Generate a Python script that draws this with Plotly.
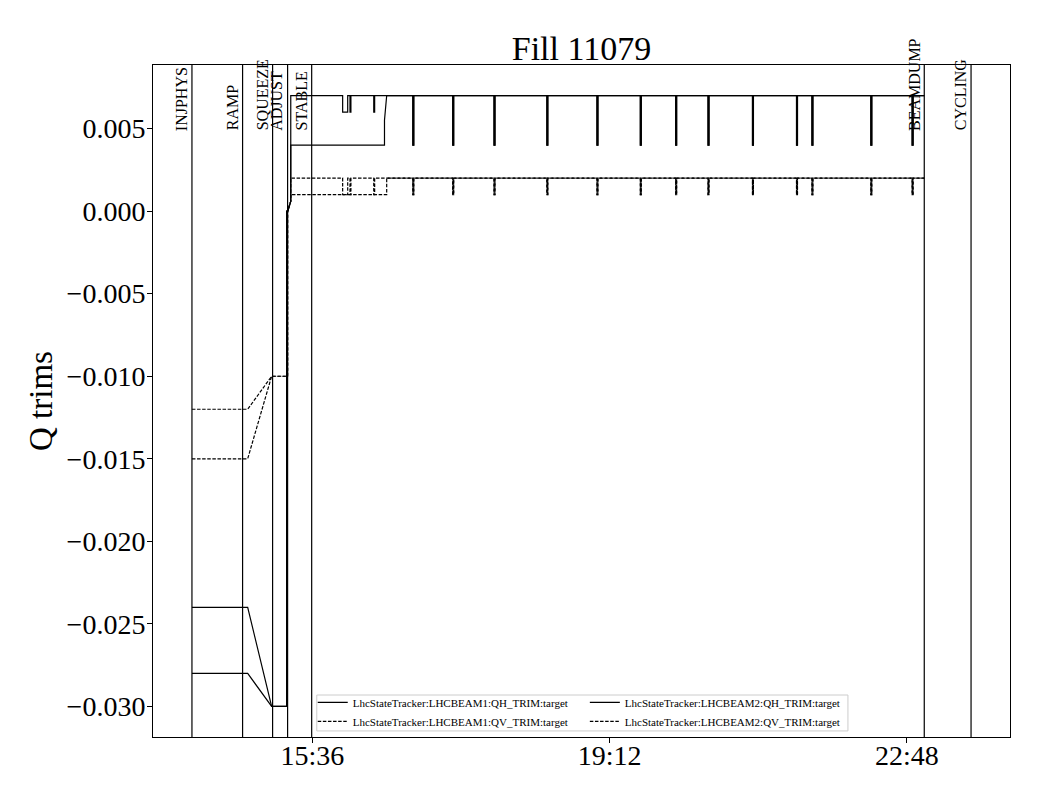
import plotly.graph_objects as go
import pandas as pd

DAY = "2025-08-21"
FONT = "Liberation Serif"

# ---- data ----
title_text = "Fill 11079"
modes = ["INJPHYS", "RAMP", "SQUEEZE", "ADJUST", "STABLE", "BEAMDUMP", "CYCLING"]
mode_times = ["14:08:30", "14:45:18", "15:07:06", "15:18:00", "15:35:30", "23:00:36", "23:34:36"]

names = [
    "LhcStateTracker:LHCBEAM1:QH_TRIM:target",
    "LhcStateTracker:LHCBEAM1:QV_TRIM:target",
    "LhcStateTracker:LHCBEAM2:QH_TRIM:target",
    "LhcStateTracker:LHCBEAM2:QV_TRIM:target",
]

# injection / ramp / squeeze part of each series
b1_qh_t = ["14:08:30", "14:49:00", "15:06:24", "15:17:18", "15:17:18", "15:18:12", "15:20:18", "15:20:18",
           "16:28:24", "16:28:24", "16:30:00"]
b1_qh_v = [-0.024, -0.024, -0.030, -0.030, 0.0, 0.0, 0.0006, 0.004, 0.004, 0.0055, 0.007]
b1_qv_t = ["14:08:30", "14:49:00", "15:06:24", "15:18:00", "15:18:00", "15:20:18", "15:20:18",
           "16:30:00", "16:30:00"]
b1_qv_v = [-0.012, -0.012, -0.010, -0.010, 0.0, 0.0006, 0.001, 0.001, 0.002]
b2_qh_t = ["14:08:30", "14:49:00", "15:06:24", "15:17:18", "15:17:18", "15:18:12", "15:20:18", "15:20:18"]
b2_qh_v = [-0.028, -0.028, -0.030, -0.030, 0.0, 0.0, 0.0006, 0.007]
b2_qv_t = ["14:08:30", "14:49:00", "15:06:24", "15:18:00", "15:18:00", "15:20:18", "15:20:18"]
b2_qv_v = [-0.015, -0.015, -0.010, -0.010, 0.0, 0.0006, 0.002]

# early small trims on beam 2 (start, end)
b2_dips = [("15:58:00", "16:01:40"), ("16:03:20", "16:04:00"), ("16:20:36", "16:21:15")]
b2_qh_dip = 0.006
b2_qv_dip = 0.001

# short trims during stable beams (both beams)
spike_starts = ["16:49:00", "17:18:00", "17:48:00", "18:26:24", "19:02:48", "19:34:18", "20:00:00",
                "20:23:30", "20:55:48", "21:27:48", "21:39:00", "22:21:48", "22:51:48"]
spike_ends = ["16:49:40", "17:18:40", "17:48:40", "18:27:04", "19:03:28", "19:34:58", "20:00:40",
              "20:24:10", "20:56:28", "21:28:28", "21:39:40", "22:22:28", "22:52:28"]
qh_plateau, qh_spike = 0.007, 0.004
qv_plateau, qv_spike = 0.002, 0.001
end_time = "23:00:36"


def add_steps(t, v, periods, base, low):
    t, v = list(t), list(v)
    for s, e in periods:
        t += [s, s, e, e]
        v += [base, low, low, base]
    return t, v


spikes = list(zip(spike_starts, spike_ends))

t1h, v1h = add_steps(b1_qh_t, b1_qh_v, spikes, qh_plateau, qh_spike)
t1v, v1v = add_steps(b1_qv_t, b1_qv_v, spikes, qv_plateau, qv_spike)
t2h, v2h = add_steps(b2_qh_t, b2_qh_v, b2_dips, qh_plateau, b2_qh_dip)
t2h, v2h = add_steps(t2h, v2h, spikes, qh_plateau, qh_spike)
t2v, v2v = add_steps(b2_qv_t, b2_qv_v, b2_dips, qv_plateau, b2_qv_dip)
t2v, v2v = add_steps(t2v, v2v, spikes, qv_plateau, qv_spike)

series = [(t1h, v1h, "solid", "legend"), (t1v, v1v, "dash", "legend"),
          (t2h, v2h, "solid", "legend2"), (t2v, v2v, "dash", "legend2")]


def ts(t):
    return pd.Timestamp(f"{DAY} {t}")


fig = go.Figure()
for (t, v, dash, leg), nm in zip(series, names):
    t = t + [end_time]
    v = v + [qh_plateau if dash == "solid" else qv_plateau]
    fig.add_trace(go.Scatter(
        x=[ts(x) for x in t], y=v, mode="lines", name=nm, legend=leg,
        line=dict(color="black", width=1.2, dash="3.5px,1.6px" if dash == "dash" else "solid"),
    ))

# mode markers
mt = [ts(x) for x in mode_times]
for m, x in zip(modes, mt):
    fig.add_shape(type="line", xref="x", yref="paper", x0=x, x1=x, y0=0, y1=1,
                  line=dict(color="black", width=1.2))
    fig.add_annotation(x=x, y=0.00475, xref="x", yref="y", text=m, textangle=-90,
                       showarrow=False, xanchor="right", yanchor="bottom",
                       font=dict(family=FONT, size=16, color="black"))

span = mt[-1] - mt[0]
xr = [mt[0] - 0.05 * span, mt[-1] + 0.05 * span]

tick_times = ["15:36:00", "19:12:00", "22:48:00"]
ytick_vals = [-0.030, -0.025, -0.020, -0.015, -0.010, -0.005, 0.000, 0.005]

# legend frame
fig.add_shape(type="rect", xref="paper", yref="paper", x0=0.1911, x1=0.8109, y0=0.009, y1=0.0625,
              line=dict(color="#cccccc", width=1), fillcolor="rgba(255,255,255,0.8)", layer="below")

fig.update_layout(
    width=1040, height=800,
    margin=dict(l=145, r=38, t=57, b=71),
    paper_bgcolor="white", plot_bgcolor="white",
    font=dict(family=FONT, color="black"),
    title=dict(text=title_text, x=0.5, xref="paper", y=1 - 40 / 800, yref="container",
               xanchor="center", yanchor="middle", font=dict(family=FONT, size=34, color="black")),
    xaxis=dict(type="date", range=xr, tickvals=[ts(x) for x in tick_times], tickformat="%H:%M",
               showgrid=False, zeroline=False, showline=True, linecolor="black", linewidth=1,
               mirror=True, ticks="outside", ticklen=5, tickcolor="black", ticklabelstandoff=-12,
               tickfont=dict(family=FONT, size=28, color="black")),
    yaxis=dict(range=[-0.03185, 0.00885], tickvals=ytick_vals, tickformat=".3f",
               showgrid=False, zeroline=False, showline=True, linecolor="black", linewidth=1,
               mirror=True, ticks="outside", ticklen=5, tickcolor="black", ticklabelstandoff=-4,
               tickfont=dict(family=FONT, size=28, color="black"),
               title=dict(text="Q trims", standoff=4, font=dict(family=FONT, size=33, color="black"))),
    legend=dict(x=0.1864, y=0.073, xanchor="left", yanchor="top", bgcolor="rgba(0,0,0,0)",
                borderwidth=0, font=dict(family=FONT, size=11, color="black"), itemwidth=30,
                tracegroupgap=0),
    legend2=dict(x=0.5039, y=0.073, xanchor="left", yanchor="top", bgcolor="rgba(0,0,0,0)",
                 borderwidth=0, font=dict(family=FONT, size=11, color="black"), itemwidth=30,
                 tracegroupgap=0),
    showlegend=True,
)

fig.write_html("out.html")
